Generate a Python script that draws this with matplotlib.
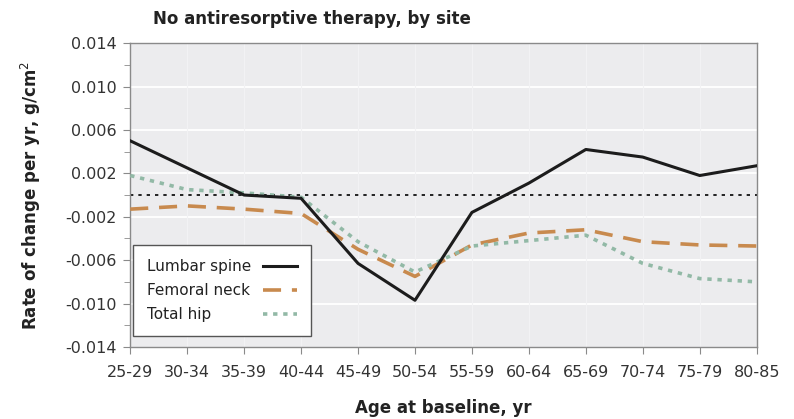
import numpy as np
import matplotlib
matplotlib.use("Agg")
from matplotlib import pyplot as plt
from matplotlib.ticker import MultipleLocator

# age groups and rate of BMD change (g/cm2 per yr), by site
age_groups = ["25-29", "30-34", "35-39", "40-44", "45-49", "50-54",
              "55-59", "60-64", "65-69", "70-74", "75-79", "80-85"]
lumbar_spine = [0.0050, 0.0025, 0.0000, -0.0003, -0.0063, -0.0097,
                -0.0016, 0.0011, 0.0042, 0.0035, 0.0018, 0.0027]
femoral_neck = [-0.0013, -0.0010, -0.0013, -0.0017, -0.0050, -0.0075,
                -0.0046, -0.0035, -0.0032, -0.0043, -0.0046, -0.0047]
total_hip = [0.0018, 0.0005, 0.0002, -0.0002, -0.0043, -0.0071,
             -0.0047, -0.0042, -0.0037, -0.0063, -0.0077, -0.0080]

fig = plt.figure(figsize=(7.94, 4.19), dpi=100)
ax = fig.add_axes([0.164, 0.172, 0.789, 0.725])
ax.set_facecolor("#ececee")

x = np.arange(len(age_groups))

# grid
for yv in np.arange(-0.010, 0.0101, 0.004):
    ax.axhline(yv, color="white", lw=1.3, zorder=1)
for xv in x[1:-1]:
    ax.axvline(xv, color="#f2f2f4", lw=0.8, zorder=1)
ax.axhline(0, color="black", lw=1.2, ls=(0, (2, 3)), zorder=2)

ax.plot(x, lumbar_spine, color="#1c1c1c", lw=2.2, label="Lumbar spine", zorder=4)
ax.plot(x, femoral_neck, color="#c88a4e", lw=2.6, ls=(0, (5, 3)), label="Femoral neck", zorder=3)
ax.plot(x, total_hip, color="#92b9a6", lw=2.6, ls=(0, (1.2, 1.6)), label="Total hip", zorder=3)

ax.set_xlim(0, len(age_groups) - 1)
ax.set_ylim(-0.014, 0.014)
ax.set_xticks(x)
ax.set_xticklabels(age_groups)
ax.set_yticks(np.arange(-0.014, 0.0141, 0.004))
ax.set_yticklabels(["%.3f" % v for v in np.arange(-0.014, 0.0141, 0.004)])
ax.yaxis.set_minor_locator(MultipleLocator(0.002))

for s in ax.spines.values():
    s.set_color("#8a8a8a")
    s.set_linewidth(1.0)
ax.tick_params(axis="both", which="both", direction="out", color="#8a8a8a",
               labelsize=11.5, labelcolor="#333333")
ax.tick_params(axis="both", which="major", length=5, pad=5)
ax.tick_params(axis="y", which="minor", length=4)
ax.tick_params(axis="x", pad=8)

ax.set_xlabel("Age at baseline, yr", fontsize=12, fontweight="bold",
              color="#222222", labelpad=14)
ax.set_ylabel("Rate of change per yr, g/cm$^2$", fontsize=12,
              fontweight="bold", color="#222222", labelpad=16)
fig.text(0.193, 0.955, "No antiresorptive therapy, by site", fontsize=12,
         fontweight="bold", color="#222222", va="center", ha="left")

leg = ax.legend(loc="lower left", bbox_to_anchor=(0.005, 0.036), fontsize=11,
                markerfirst=False, fancybox=False, framealpha=1,
                edgecolor="#555555", handlelength=2.2, labelspacing=0.6,
                borderpad=0.9, borderaxespad=0, handletextpad=0.5,
                labelcolor="#222222")
leg.get_frame().set_linewidth(1.0)

# left-align the labels so the line samples line up in one column
fig.canvas.draw()
renderer = fig.canvas.get_renderer()
col = leg._legend_handle_box.get_children()[0]
rows = col.get_children()
widths = [row.get_children()[0].get_bbox(renderer).width for row in rows]
px_per_pt = renderer.points_to_pixels(1.0)
for row, w in zip(rows, widths):
    row.sep = row.sep + (max(widths) - w) / px_per_pt + 3

fig.savefig("out.png", dpi=100)
